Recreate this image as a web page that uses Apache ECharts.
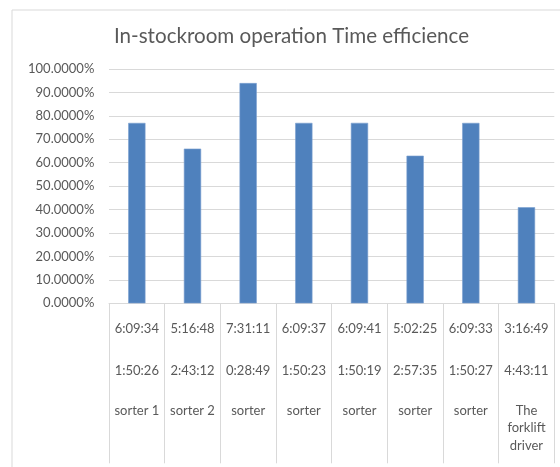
<!DOCTYPE html>
<html>
<head>
<meta charset="utf-8">
<script src="https://cdn.jsdelivr.net/npm/echarts@6/dist/echarts.min.js"></script>
<style>
html,body{margin:0;padding:0;background:#fff;}
#chart{width:560px;height:467px;}
</style>
</head>
<body>
<div id="chart"></div>
<script>
var titleText = 'In-stockroom operation Time efficience';
var workerNames = ['sorter 1', 'sorter 2', 'sorter', 'sorter', 'sorter', 'sorter', 'sorter', 'The\nforklift\ndriver'];
var workTimes = ['6:09:34', '5:16:48', '7:31:11', '6:09:37', '6:09:41', '5:02:25', '6:09:33', '3:16:49'];
var idleTimes = ['1:50:26', '2:43:12', '0:28:49', '1:50:23', '1:50:19', '2:57:35', '1:50:27', '4:43:11'];
var efficiency = [0.7699, 0.66, 0.94, 0.7700, 0.7702, 0.63, 0.7699, 0.41];
var yTicks = [0, 0.1, 0.2, 0.3, 0.4, 0.5, 0.6, 0.7, 0.8, 0.9, 1.0];

var FONT = 'Lato';
var TXT = '#595959';
var GRID = '#d9d9d9';

var chart = echarts.init(document.getElementById('chart'), null, {renderer: 'canvas'});
var catKeys = workerNames.map(function (n, i) { return String(i); });

chart.setOption({
  backgroundColor: '#ffffff',
  animation: false,
  graphic: [{
    type: 'rect',
    shape: {x: 12, y: 10, width: 600, height: 500},
    style: {fill: null, stroke: GRID, lineWidth: 1},
    silent: true,
    z: -10
  }],
  title: {
    text: titleText,
    left: 291.5,
    top: 36,
    padding: 0,
    textAlign: 'center',
    textVerticalAlign: 'middle',
    textStyle: {fontFamily: FONT, fontSize: 20.6, fontWeight: 'normal', color: TXT}
  },
  grid: {left: 109, right: 5.7, top: 69, bottom: 163.7, containLabel: false, outerBoundsMode: 'none'},
  xAxis: {
    type: 'category',
    data: catKeys,
    boundaryGap: true,
    axisLine: {show: true, lineStyle: {color: GRID, width: 1}},
    axisTick: {show: true, length: 160, alignWithLabel: false, interval: 0, lineStyle: {color: GRID, width: 1}},
    splitLine: {show: false},
    axisLabel: {
      interval: 0,
      margin: 15.7,
      color: TXT,
      fontFamily: FONT,
      fontSize: 13,
      formatter: function (v, i) {
        var idx = Number(v);
        var nameLines = workerNames[idx].split('\n').map(function (s) { return '{c|' + s + '}'; });
        return '{a|' + workTimes[idx] + '}\n{b|' + idleTimes[idx] + '}\n' + nameLines.join('\n');
      },
      rich: {
        a: {lineHeight: 20, fontFamily: FONT, fontSize: 13, color: TXT},
        b: {lineHeight: 62.7, fontFamily: FONT, fontSize: 13, color: TXT},
        c: {lineHeight: 17.5, fontFamily: FONT, fontSize: 13, color: TXT}
      }
    }
  },
  yAxis: {
    type: 'value',
    min: yTicks[0],
    max: yTicks[yTicks.length - 1],
    interval: 0.1,
    axisLine: {show: false},
    axisTick: {show: false},
    splitLine: {show: true, lineStyle: {color: GRID, width: 1}},
    axisLabel: {
      margin: 14.7,
      color: TXT,
      fontFamily: FONT,
      fontSize: 13,
      formatter: function (v) { return (v * 100).toFixed(4) + '%'; }
    }
  },
  series: [{
    type: 'bar',
    data: efficiency,
    barWidth: '31%',
    itemStyle: {color: '#4f81bd', borderColor: '#7a9fd0', borderWidth: 0.6}
  }]
});
</script>
</body>
</html>
